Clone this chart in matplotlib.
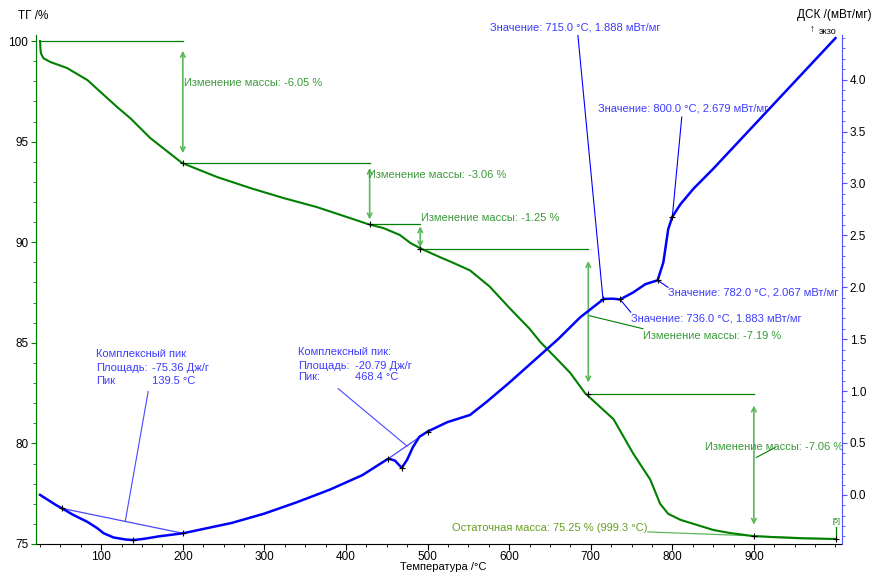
import matplotlib.pyplot as plt
import numpy as np
from matplotlib.ticker import MultipleLocator

plt.rcParams['font.family'] = ['Liberation Sans', 'DejaVu Sans']

# ТГ кривая (температура °C, масса %)
tg_T = [25, 25.5, 26, 29, 37.5, 58, 83, 99, 120, 136, 160, 199, 242, 283, 323, 364,
        405, 427, 446, 466, 479, 491, 515, 530, 552, 576, 600, 625, 638, 662, 675, 693,
        728, 752, 773, 785, 795, 810, 830, 850, 870, 900, 930, 960, 1000]
tg_m = [100, 99.6, 99.4, 99.15, 98.96, 98.66, 98.06, 97.47, 96.7, 96.15, 95.18, 93.94,
        93.24, 92.69, 92.2, 91.75, 91.2, 90.9, 90.7, 90.36, 89.96, 89.7, 89.26, 89.0,
        88.6, 87.8, 86.75, 85.7, 85.05, 84.05, 83.5, 82.5, 81.2, 79.5, 78.2, 77.0,
        76.5, 76.2, 75.95, 75.7, 75.55, 75.39, 75.33, 75.28, 75.25]

# ДСК кривая (температура °C, мВт/мг)
dsc_T = [25, 35, 45, 52, 65, 83, 95, 103, 115, 130, 140, 155, 170, 185, 200, 230, 260,
         300, 340, 380, 420, 440, 452, 460, 468.4, 475, 482, 490, 500, 524, 552, 573,
         600, 630, 660, 687, 700, 716, 727, 736, 752, 767, 782, 789, 795, 800, 810,
         826, 850, 900, 950, 1000]
dsc_v = [0.0, -0.05, -0.10, -0.13, -0.19, -0.26, -0.32, -0.37, -0.41, -0.43, -0.435,
         -0.42, -0.40, -0.385, -0.37, -0.32, -0.27, -0.18, -0.07, 0.05, 0.19, 0.29,
         0.35, 0.33, 0.26, 0.34, 0.46, 0.56, 0.61, 0.70, 0.77, 0.90, 1.08, 1.29, 1.50,
         1.71, 1.79, 1.888, 1.89, 1.883, 1.95, 2.03, 2.067, 2.24, 2.56, 2.679, 2.80,
         2.95, 3.14, 3.56, 3.98, 4.40]

# ступени потери массы
step_T = [25, 200, 429, 491, 697, 900]
step_m = [100, 93.94, 90.89, 89.64, 82.45, 75.39]
step_labels = ['-6.05', '-3.06', '-1.25', '-7.19', '-7.06']
resid_T = 999.3
resid_m = 75.25

# точки значений ДСК
val_T = [715.0, 800.0, 782.0, 736.0]
val_v = [1.888, 2.679, 2.067, 1.883]

# комплексные пики: начало, пик, конец
peak1 = [52, 139.5, 200]
peak2 = [452, 468.4, 500]

green = '#008000'
lgreen = '#5cb85c'
tgreen = '#3a9a3a'
blue = '#0000ff'
tblue = '#3c3cff'

fig = plt.figure(figsize=(8.75, 5.74), dpi=100)
ax = fig.add_axes([36 / 875, 30 / 574, 806 / 875, 509 / 574])
ax2 = ax.twinx()

ax.set_xlim(20, 1008)
ax.set_ylim(75, 100.3)
ax2.set_ylim(-0.473, 4.43)

ax.plot(tg_T, tg_m, color=green, lw=1.5, zorder=3)
ax2.plot(dsc_T, dsc_v, color=blue, lw=1.8, zorder=3)

# ступени массы
for i, lab in enumerate(step_labels):
    t0, t1 = step_T[i], step_T[i + 1]
    m0, m1 = step_m[i], step_m[i + 1]
    ax.plot([t0, t1], [m0, m0], color=green, lw=0.9)
    gap = 0.08 * (m0 - m1)
    ax.annotate('', xy=(t1, m0 - gap), xytext=(t1, m1 + gap),
                arrowprops=dict(arrowstyle='<->', color=lgreen, lw=1.2,
                                mutation_scale=8, shrinkA=0, shrinkB=0))
    ax.plot(t1, m1, '+', color='k', ms=5, mew=0.8, zorder=4)

lab_pos = [(201, 97.9), (427, 93.34), (492, 91.2), (764, 85.34), (840, 79.82)]
for (tx, my), lab in zip(lab_pos, step_labels):
    ax.text(tx, my, f'Изменение массы: {lab} %', color=tgreen, fontsize=8, va='center')
# выноски к двум последним
ax.plot([697, 764], [86.36, 85.7], color=green, lw=0.8)
ax.plot([903, 926], [79.3, 79.8], color=green, lw=0.8)

# остаточная масса
ax.text(770, 75.8, f'Остаточная масса: {resid_m} % ({resid_T} °C)', color='#66a020',
        fontsize=8, va='center', ha='right')
ax.plot([770, 1001], [75.6, 75.25], color=lgreen, lw=0.9)
ax.plot([1001, 1001], [75.25, 75.85], color=green, lw=0.9)
ax.text(1001, 76.1, '[5]', color=green, fontsize=5, ha='center', va='center')
ax.plot(1001, resid_m, '+', color='k', ms=5, mew=0.8, zorder=4)

# значения ДСК
val_text = [(576.5, 4.50), (708.8, 3.72), (794.6, 1.95), (749, 1.70)]
val_lead = [(684.3, 4.425), (811.6, 3.64), (794.6, 2.00), (749, 1.76)]
for t, v, (tx, ty), (lx, ly) in zip(val_T, val_v, val_text, val_lead):
    ax2.text(tx, ty, f'Значение: {t:.1f} °C, {v:.3f} мВт/мг', color=tblue,
             fontsize=8, va='center')
    ax2.plot([lx, t], [ly, v], color=blue, lw=0.8)
    ax2.plot(t, v, '+', color='k', ms=5, mew=0.8, zorder=4)

# комплексные пики
def peak(pk, txt_T, val_Tx, ys, lead, title, area, tp, colon):
    b0 = np.interp(pk[0], dsc_T, dsc_v)
    b1 = np.interp(pk[2], dsc_T, dsc_v)
    ax2.plot([pk[0], pk[2]], [b0, b1], color='#4848ff', lw=0.9)
    for t in pk:
        ax2.plot(t, np.interp(t, dsc_T, dsc_v), '+', color='k', ms=5, mew=0.8, zorder=4)
    ax2.text(txt_T, ys[0], title, color=tblue, fontsize=8, va='center')
    ax2.text(txt_T, ys[1], 'Площадь:', color=tblue, fontsize=8, va='center')
    ax2.text(val_Tx, ys[1], f'{area} Дж/г', color=tblue, fontsize=8, va='center')
    ax2.text(txt_T, ys[2], 'Пик' + colon, color=tblue, fontsize=8, va='center')
    ax2.text(val_Tx, ys[2], f'{tp} °C', color=tblue, fontsize=8, va='center')
    ax2.plot([lead[0], lead[2]], [lead[1], lead[3]], color='#4848ff', lw=0.8)

peak(peak1, 94, 162.4, [1.353, 1.227, 1.101], [157.5, 0.995, 129.4, -0.255],
     'Комплексный пик', '-75.36', '139.5', '')
peak(peak2, 341, 411, [1.372, 1.246, 1.140], [390.3, 1.024, 474.8, 0.47],
     'Комплексный пик:', '-20.79', '468.4', ':')

# оси
ax.spines['top'].set_visible(False)
ax2.spines['top'].set_visible(False)
ax.spines['right'].set_visible(False)
ax2.spines['left'].set_color(green)
ax.spines['left'].set_color(green)
ax2.spines['right'].set_color('#5050ff')
ax2.spines['bottom'].set_visible(False)

ax.xaxis.set_major_locator(MultipleLocator(100))
ax.xaxis.set_minor_locator(MultipleLocator(25))
ax.yaxis.set_major_locator(MultipleLocator(5))
ax.yaxis.set_minor_locator(MultipleLocator(1))
ax2.yaxis.set_major_locator(MultipleLocator(0.5))
ax2.yaxis.set_minor_locator(MultipleLocator(0.1))
ax.set_xticks([100, 200, 300, 400, 500, 600, 700, 800, 900])
ax.tick_params(axis='x', which='major', length=4, labelsize=8.5, pad=1)
ax.tick_params(axis='x', which='minor', length=2)
ax.tick_params(axis='y', which='both', color=green, labelsize=8.5, pad=2)
ax.tick_params(axis='y', which='minor', length=2)
ax2.tick_params(axis='y', which='both', color='#5050ff', labelsize=8.5, pad=2)
ax2.tick_params(axis='y', which='minor', length=2)
ax2.set_yticks([0.0, 0.5, 1.0, 1.5, 2.0, 2.5, 3.0, 3.5, 4.0])
ax2.set_yticklabels(['0.0', '0.5', '1.0', '1.5', '2.0', '2.5', '3.0', '3.5', '4.0'])

fig.text(18 / 875, 1 - 16 / 574, 'ТГ /%', fontsize=8.5, va='center')
fig.text(872 / 875, 1 - 15 / 574, 'ДСК /(мВт/мг)', fontsize=8.5, va='center', ha='right')
fig.text(812 / 875, 1 - 29 / 574, '↑', fontsize=7, va='center', ha='center')
fig.text(819 / 875, 1 - 31 / 574, 'экзо', fontsize=6.5, va='center')
fig.text(443 / 875, 1 - 572 / 574, 'Температура /°C', fontsize=8, va='bottom', ha='center')

fig.savefig('out.png', dpi=100)
